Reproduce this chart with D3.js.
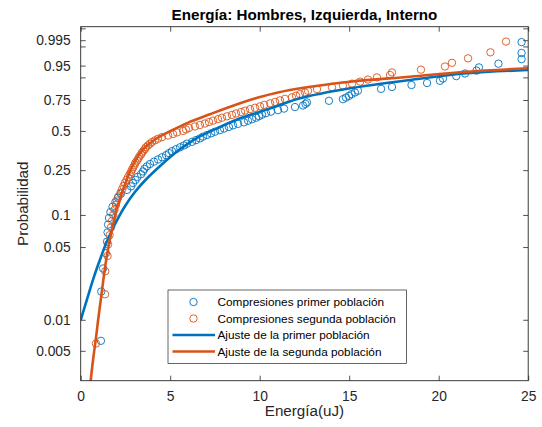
<!DOCTYPE html>
<html>
<head>
<meta charset="utf-8">
<script src="https://cdn.jsdelivr.net/npm/d3@7"></script>
<style>
  body { margin: 0; background: #fff; }
  text { font-family: "Liberation Sans", Arial, Helvetica, sans-serif; }
</style>
</head>
<body>
<svg id="chart" width="542" height="427"></svg>
<script>
// ---- data ----
const xTicks = [0, 5, 10, 15, 20, 25];
const yTicks = [0.005, 0.01, 0.05, 0.1, 0.25, 0.5, 0.75, 0.9, 0.95, 0.99, 0.995, 0.999];
const yTickLabels = ["0.005", "0.01", "0.05", "0.1", "0.25", "0.5", "0.75", "", "0.95", "", "0.995", ""];
const xLimits = [0, 25];
const yLimits = [0.002561, 0.99923];

// first population: sorted energies (uJ) and plotting probabilities
const energyFirst = [
  1.13, 1.15, 1.25, 1.41, 1.47, 1.50, 1.53, 1.58, 1.66, 1.78,
  1.94, 2.08, 2.25, 2.59, 2.81, 2.92, 3.06, 3.17, 3.37, 3.48,
  3.56, 3.70, 3.87, 4.09, 4.32, 4.54, 4.77, 4.93, 5.10, 5.32,
  5.55, 5.77, 5.94, 6.22, 6.44, 6.66, 6.83, 7.06, 7.28, 7.50,
  7.78, 8.01, 8.28, 8.51, 8.79, 9.12, 9.35, 9.57, 9.80, 9.96,
  10.13, 10.35, 10.63, 11.02, 11.36, 11.97, 12.42, 12.56, 12.64, 13.87,
  14.65, 14.82, 14.99, 15.13, 15.32, 15.49, 16.78, 17.39, 18.48, 19.35,
  20.07, 20.24, 20.98, 21.47, 22.11, 22.25, 23.34, 24.63, 24.63, 24.63
];
const probFirst = [
  0.00625, 0.01875, 0.03125, 0.04375, 0.05625, 0.06875, 0.08125, 0.09375, 0.10625, 0.11875,
  0.13125, 0.14375, 0.15625, 0.16875, 0.18125, 0.19375, 0.20625, 0.21875, 0.23125, 0.24375,
  0.25625, 0.26875, 0.28125, 0.29375, 0.30625, 0.31875, 0.33125, 0.34375, 0.35625, 0.36875,
  0.38125, 0.39375, 0.40625, 0.41875, 0.43125, 0.44375, 0.45625, 0.46875, 0.48125, 0.49375,
  0.50625, 0.51875, 0.53125, 0.54375, 0.55625, 0.56875, 0.58125, 0.59375, 0.60625, 0.61875,
  0.63125, 0.64375, 0.65625, 0.66875, 0.68125, 0.69375, 0.70625, 0.71875, 0.73125, 0.74375,
  0.75625, 0.76875, 0.78125, 0.79375, 0.80625, 0.81875, 0.83125, 0.84375, 0.85625, 0.86875,
  0.88125, 0.89375, 0.90625, 0.91875, 0.93125, 0.94375, 0.95625, 0.96875, 0.98125, 0.99375
];

// second population
const energySecond = [
  0.85, 1.36, 1.37, 1.50, 1.53, 1.61, 1.69, 1.75, 1.82, 1.89,
  1.97, 2.03, 2.11, 2.22, 2.31, 2.39, 2.47, 2.56, 2.64, 2.73,
  2.81, 2.87, 2.94, 3.01, 3.06, 3.15, 3.22, 3.28, 3.37, 3.42,
  3.51, 3.59, 3.65, 3.76, 3.87, 3.98, 4.15, 4.32, 4.54, 4.88,
  5.16, 5.38, 5.72, 5.88, 6.05, 6.38, 6.66, 6.94, 7.17, 7.39,
  7.67, 7.89, 8.17, 8.45, 8.68, 8.96, 9.18, 9.46, 9.74, 10.02,
  10.25, 10.58, 10.86, 11.13, 11.41, 11.80, 12.03, 12.25, 12.53, 12.70,
  13.20, 14.04, 14.65, 15.16, 15.61, 16.05, 16.55, 17.28, 17.39, 19.01,
  20.35, 20.74, 21.64, 22.89, 23.76
];
const probSecond = [
  0.00588, 0.01765, 0.02941, 0.04118, 0.05294, 0.06471, 0.07647, 0.08824, 0.10000, 0.11176,
  0.12353, 0.13529, 0.14706, 0.15882, 0.17059, 0.18235, 0.19412, 0.20588, 0.21765, 0.22941,
  0.24118, 0.25294, 0.26471, 0.27647, 0.28824, 0.30000, 0.31176, 0.32353, 0.33529, 0.34706,
  0.35882, 0.37059, 0.38235, 0.39412, 0.40588, 0.41765, 0.42941, 0.44118, 0.45294, 0.46471,
  0.47647, 0.48824, 0.50000, 0.51176, 0.52353, 0.53529, 0.54706, 0.55882, 0.57059, 0.58235,
  0.59412, 0.60588, 0.61765, 0.62941, 0.64118, 0.65294, 0.66471, 0.67647, 0.68824, 0.70000,
  0.71176, 0.72353, 0.73529, 0.74706, 0.75882, 0.77059, 0.78235, 0.79412, 0.80588, 0.81765,
  0.82941, 0.84118, 0.85294, 0.86471, 0.87647, 0.88824, 0.90000, 0.91176, 0.92353, 0.93529,
  0.94706, 0.95882, 0.97059, 0.98235, 0.99412
];

// fitted curves
const fitFirstEnergy = [0, 0.34, 0.70, 1.08, 1.45, 1.92, 2.48, 3.03, 3.59, 4.53, 5.45, 6.39, 7.78, 8.90, 10.02, 11.13, 12.25, 15.05, 18.40, 21.56, 25];
const fitFirstProb   = [0.00994, 0.01552, 0.02473, 0.03803, 0.05578, 0.08237, 0.12073, 0.16148, 0.2039, 0.27837, 0.36019, 0.43904, 0.53066, 0.6013, 0.6557, 0.7103, 0.7630, 0.8350, 0.8858, 0.9197, 0.9338];

const fitSecondEnergy = [0.51, 0.56, 0.70, 0.86, 0.98, 1.12, 1.26, 1.45, 1.73, 2.01, 2.25, 2.48, 2.85, 3.41, 4.15, 5.08, 6.01, 7.22, 8.90, 10.02, 11.69, 15.05, 18.40, 21.56, 25];
const fitSecondProb   = [0.00199, 0.00257, 0.00421, 0.00680, 0.01017, 0.01552, 0.02392, 0.04019, 0.07083, 0.11336, 0.15029, 0.18999, 0.26291, 0.35707, 0.43541, 0.50313, 0.5662, 0.6345, 0.7240, 0.7729, 0.8234, 0.8762, 0.9034, 0.9267, 0.9405];

const seriesNames = ["Compresiones primer población", "Compresiones segunda población",
                     "Ajuste de la primer población", "Ajuste de la segunda población"];
const titleText = "Energía: Hombres, Izquierda, Interno";
const xLabel = "Energía(uJ)";
const yLabel = "Probabilidad";

// ---- drawing ----
const blue = "#0072BD", orange = "#D95319", axisColor = "#262626";
const plot = { left: 80.7, right: 528.2, top: 26.7, bottom: 380.7 };

const svg = d3.select("#chart");
svg.append("rect").attr("width", 542).attr("height", 427).attr("fill", "#fff");

// Weibull probability transform for the vertical axis
const weib = p => Math.log(-Math.log(1 - p));
const x = d3.scaleLinear().domain(xLimits).range([plot.left, plot.right]);
const yT = d3.scaleLinear().domain(yLimits.map(weib)).range([plot.bottom, plot.top]);
const y = p => yT(weib(p));

svg.append("clipPath").attr("id", "plotClip")
  .append("rect")
  .attr("x", plot.left).attr("y", plot.top)
  .attr("width", plot.right - plot.left).attr("height", plot.bottom - plot.top);

const area = svg.append("g").attr("clip-path", "url(#plotClip)");

function drawPoints(energies, probs, color) {
  area.append("g").selectAll("circle")
    .data(energies.map((e, i) => [e, probs[i]]))
    .join("circle")
    .attr("cx", d => x(d[0]))
    .attr("cy", d => y(d[1]))
    .attr("r", 3.7)
    .attr("fill", "none")
    .attr("stroke", color)
    .attr("stroke-width", 0.9);
}
drawPoints(energyFirst, probFirst, blue);
drawPoints(energySecond, probSecond, orange);

const line = d3.line().x(d => x(d[0])).y(d => y(d[1])).curve(d3.curveCatmullRom.alpha(0.5));
function drawFit(energies, probs, color) {
  area.append("path")
    .datum(energies.map((e, i) => [e, probs[i]]))
    .attr("d", line)
    .attr("fill", "none")
    .attr("stroke", color)
    .attr("stroke-width", 2.6);
}
drawFit(fitFirstEnergy, fitFirstProb, blue);
drawFit(fitSecondEnergy, fitSecondProb, orange);

// axes (ticks point inward, mirrored on all four sides)
const tickFont = 13.8;
const yTickVals = yTicks.map(weib);

const gx = svg.append("g").attr("transform", `translate(0,${plot.bottom})`)
  .call(d3.axisBottom(x).tickValues(xTicks).tickSizeInner(-5).tickSizeOuter(0).tickPadding(11));
const gxTop = svg.append("g").attr("transform", `translate(0,${plot.top})`)
  .call(d3.axisTop(x).tickValues(xTicks).tickSizeInner(-5).tickSizeOuter(0).tickFormat(""));
const gy = svg.append("g").attr("transform", `translate(${plot.left},0)`)
  .call(d3.axisLeft(yT).tickValues(yTickVals).tickSizeInner(-5).tickSizeOuter(0).tickPadding(10)
    .tickFormat((d, i) => yTickLabels[i]));
const gyRight = svg.append("g").attr("transform", `translate(${plot.right},0)`)
  .call(d3.axisRight(yT).tickValues(yTickVals).tickSizeInner(-5).tickSizeOuter(0).tickFormat(""));

[gx, gxTop, gy, gyRight].forEach(g => {
  g.select(".domain").remove();
  g.selectAll(".tick line").attr("stroke", axisColor).attr("stroke-width", 0.8);
  g.selectAll(".tick text").attr("fill", axisColor).attr("font-size", tickFont)
    .attr("font-family", "Liberation Sans, Arial, sans-serif");
});

svg.append("rect")
  .attr("x", plot.left).attr("y", plot.top)
  .attr("width", plot.right - plot.left).attr("height", plot.bottom - plot.top)
  .attr("fill", "none").attr("stroke", axisColor).attr("stroke-width", 0.9);

// title and axis labels
svg.append("text").attr("x", (plot.left + plot.right) / 2).attr("y", 19.5)
  .attr("text-anchor", "middle").attr("font-size", 15.2).attr("font-weight", "bold")
  .attr("fill", "#000").text(titleText);

svg.append("text").attr("x", (plot.left + plot.right) / 2).attr("y", 415.5)
  .attr("text-anchor", "middle").attr("font-size", 15.2).attr("fill", axisColor).text(xLabel);

svg.append("text")
  .attr("transform", `translate(28.3,${(plot.top + plot.bottom) / 2}) rotate(-90)`)
  .attr("text-anchor", "middle").attr("font-size", 15.2).attr("fill", axisColor).text(yLabel);

// legend
const legend = svg.append("g");
legend.append("rect").attr("x", 168).attr("y", 290).attr("width", 238.5).attr("height", 73.5)
  .attr("fill", "#fff").attr("stroke", axisColor).attr("stroke-width", 0.7);
const rowsY = [302, 318.5, 335, 351.5];
const kinds = [["point", blue], ["point", orange], ["line", blue], ["line", orange]];
kinds.forEach(([kind, color], i) => {
  if (kind === "point") {
    legend.append("circle").attr("cx", 193.5).attr("cy", rowsY[i]).attr("r", 3.7)
      .attr("fill", "none").attr("stroke", color).attr("stroke-width", 0.9);
  } else {
    legend.append("line").attr("x1", 172.5).attr("x2", 215).attr("y1", rowsY[i]).attr("y2", rowsY[i])
      .attr("stroke", color).attr("stroke-width", 2.6);
  }
  legend.append("text").attr("x", 217.5).attr("y", rowsY[i]).attr("dy", "0.35em")
    .attr("font-size", 11.8).attr("fill", "#000").text(seriesNames[i]);
});
</script>
</body>
</html>
